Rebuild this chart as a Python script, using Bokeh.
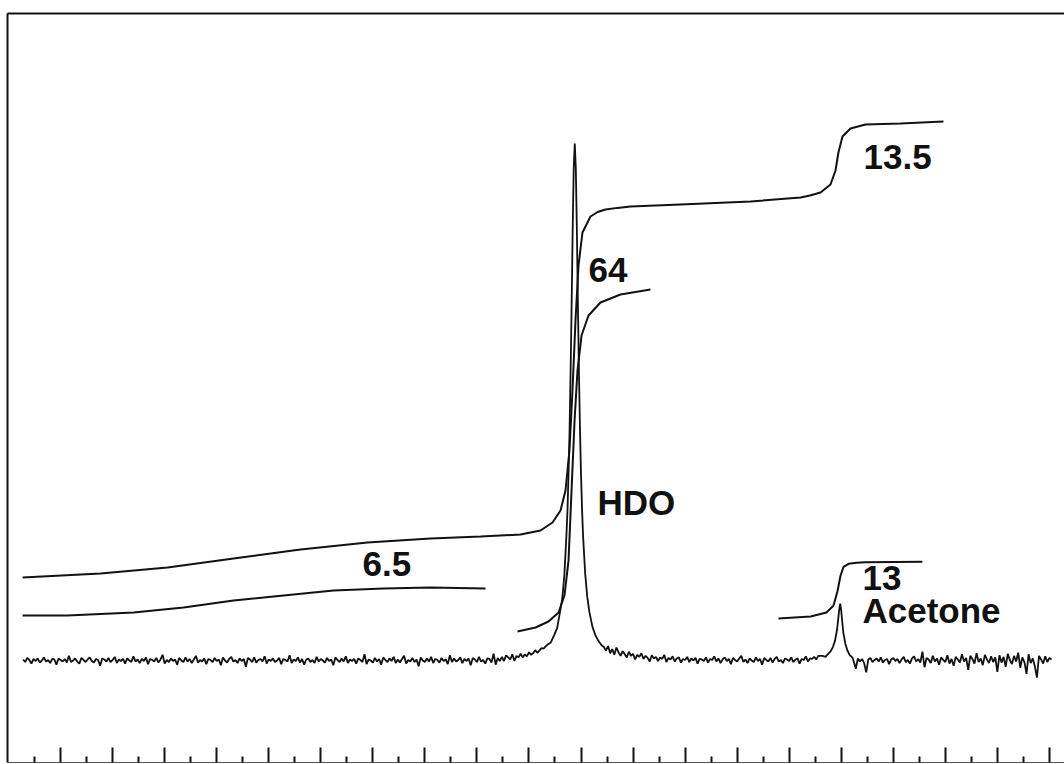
import numpy as np
from bokeh.plotting import figure
from bokeh.models import Range1d, FixedTicker, LinearAxis, Label
from bokeh.embed import file_html
from bokeh.resources import INLINE

# ---------------- data (ppm scale, intensity in % of HDO peak) ----------------
major_ticks = [9.5, 9.0, 8.5, 8.0, 7.5, 7.0, 6.5, 6.0, 5.5, 5.0,
               4.5, 4.0, 3.5, 3.0, 2.5, 2.0, 1.5, 1.0, 0.5, 0.0]
minor_ticks = [9.75, 9.25, 8.75, 8.25, 7.75, 7.25, 6.75, 6.25, 5.75, 5.25,
               4.75, 4.25, 3.75, 3.25, 2.75, 2.25, 1.75, 1.25, 0.75, 0.25]

sample_step = 0.02

# baseline trace left of HDO: starts 9.86 ppm, sampled every 0.02 ppm
base_left_start = 9.86
base_left = [0.2, -0.3, 0.5, 0.1, -0.6, 0.3, -0.1, 0.4, -0.4, 0.0,
             0.6, -0.2, 0.1, -0.5, 0.3, 0.2, -0.8, 0.4, 0.1, -0.2,
             0.3, -0.4, 0.9, -0.3, 0.0, 0.4, -0.2, -0.6, 0.5, 0.1,
             -0.3, 0.2, 0.6, -0.1, -0.4, 0.3, 0.1, -1.0, 0.4, 0.2,
             -0.2, 0.5, -0.3, 0.1, 0.7, -0.5, 0.2, -0.1, 0.3, -0.6,
             0.4, 0.0, -0.3, 0.8, -0.2, 0.2, -0.5, 0.3, -0.1, 0.6,
             -0.7, 0.3, 0.1, -0.2, 0.5, -0.4, 0.2, 1.1, -0.6, 0.1,
             -0.3, 0.4, -0.1, 0.2, -0.8, 0.5, 0.0, -0.3, 0.6, -0.2,
             0.3, -0.5, 0.2, 0.9, -0.4, 0.1, -0.2, 0.4, -0.7, 0.3,
             0.1, -0.3, 0.5, -0.1, 0.2, -0.9, 0.6, 0.0, -0.4, 0.3,
             0.7, -0.2, 0.1, -0.5, 0.4, -0.1, 0.3, -1.2, 0.5, 0.2,
             -0.3, 0.6, -0.4, 0.1, 0.3, -0.2, 0.8, -0.6, 0.2, -0.1,
             0.4, -0.3, 0.0, 0.5, -0.7, 0.3, 0.1, -0.2, 1.0, -0.5,
             0.2, -0.1, 0.6, -0.4, 0.3, -0.8, 0.2, 0.4, -0.3, 0.1,
             -0.5, 0.7, -0.2, 0.3, 0.0, -0.4, 0.5, -0.1, 0.2, -0.9,
             0.6, 0.1, -0.3, 0.4, -0.2, 0.8, -0.5, 0.2, -0.1, 0.3,
             -0.6, 0.4, 0.1, -0.3, 1.2, -0.7, 0.2, 0.0, -0.4, 0.5,
             -0.2, 0.3, -0.8, 0.6, 0.1, -0.3, 0.4, -0.1, 0.7, -0.5,
             0.2, -0.4, 0.3, 0.9, -0.6, 0.1, -0.2, 0.5, -0.3, 0.2,
             -1.1, 0.6, 0.0, -0.3, 0.4, -0.2, 0.7, -0.5, 0.3, 0.1,
             -0.4, 0.5, -0.1, 0.2, -0.7, 1.0, -0.3, 0.4, -0.2, 0.1,
             0.6, -0.5, 0.3, -0.1, 0.4, -0.9, 0.5, 0.2, -0.3, 0.7,
             -0.2, 0.1, -0.6, 0.4, 0.3, -0.4, 1.3, -0.8, 0.5, -0.1,
             0.7, -0.1, 1.0, 0.6, 0.2, 1.2, -0.1, 0.9, 0.6, 1.3,
             0.6, 1.2, 0.8, 1.6, 1.1, 1.4, 2.0, 1.5, 1.9, 2.4,
             2.3]

# HDO line
hdo_ppm = [4.82, 4.79, 4.76, 4.73, 4.70, 4.68, 4.66, 4.64, 4.63, 4.62,
           4.61, 4.60, 4.59, 4.58, 4.57, 4.56, 4.55, 4.54, 4.53, 4.52,
           4.51, 4.50, 4.49, 4.48, 4.46, 4.44, 4.42, 4.39, 4.36, 4.33,
           4.30]
hdo_int = [3.1, 3.5, 4.8, 6.2, 9.6, 12.0, 16.5, 24.3, 29.0, 36.2,
           44.5, 56.0, 69.0, 83.5, 95.3, 100.0, 95.3, 83.5, 69.2, 55.9,
           44.8, 36.0, 29.2, 24.0, 16.8, 12.3, 9.4, 6.5, 4.8, 3.7,
           2.9]

# baseline between HDO and acetone: starts 4.28 ppm, every 0.02 ppm
base_mid_start = 4.28
base_mid = [2.6, 1.9, 2.8, 1.4, 2.2, 1.1, 2.5, 1.6, 0.9, 1.8,
            1.2, 0.6, 1.7, 0.9, 1.3, 0.2, 1.1, 0.7, 1.4, 0.3,
            0.9, 0.5, -0.2, 1.0, 0.4, 0.7, -0.1, 0.6, 0.3, 1.1,
            -0.3, 0.5, 0.2, 0.8, -0.2, 0.4, 0.6, -0.4, 0.3, 0.1,
            0.7, -0.3, 0.4, 0.0, 0.5, -0.6, 0.3, 0.2, -0.1, 0.6,
            -0.4, 0.3, 0.1, 0.8, -0.2, 0.4, -0.5, 0.2, 0.6, -0.1,
            0.3, -0.7, 0.5, 0.1, -0.2, 0.4, 0.9, -0.3, 0.2, -0.5,
            0.4, 0.0, -0.3, 0.6, -0.1, 0.3, -0.8, 0.5, 0.1, -0.2,
            0.5, -0.4, 0.3, 0.7, -0.2, 0.1, -0.5, 0.4, 0.2, -0.1,
            0.6, -0.3, 0.2, 0.4, -0.6, 0.3, 0.1, 0.8, -0.2, 0.4,
            0.3, 0.7, 0.2, 0.9]

# acetone line
ace_ppm = [2.18, 2.15, 2.13, 2.10, 2.08, 2.06, 2.04, 2.03, 2.02, 2.01,
           2.00, 1.99, 1.98, 1.96, 1.94, 1.92, 1.89]
ace_int = [0.9, 0.7, 1.2, 1.8, 2.6, 3.8, 6.0, 7.8, 9.8, 11.0,
           9.6, 7.4, 5.4, 3.2, 1.9, 1.1, 0.5]

# baseline right of acetone: starts 1.86 ppm, every 0.02 ppm
base_right_start = 1.86
base_right = [-1.6, 0.4, -0.2, 0.3, -0.5, -2.3, 0.2, 0.5, -0.3, 0.1,
              0.4, -0.2, 0.6, -0.4, 0.1, 0.3, -0.7, 0.2, 0.5, -0.1,
              0.3, -0.5, 0.2, 0.7, -0.3, 0.1, -0.6, 0.4, 0.8, -0.2,
              0.3, -0.4, 1.7, -1.3, 0.5, 0.2, -0.5, 0.9, -0.2, 0.4,
              -0.8, 0.6, 0.1, -0.3, 1.0, -0.6, 0.3, -1.0, 0.7, 0.2,
              -0.4, 1.2, -0.2, 0.5, -1.8, 0.9, 0.3, -0.6, 1.4, -0.3,
              0.4, -0.9, 1.1, 0.2, -0.5, 0.8, -0.3, 0.6, -2.2, 1.0,
              -0.4, 0.7, -1.2, 1.3, 0.1, -0.7, 0.9, -0.2, 1.5, -1.4,
              0.6, -0.3, -2.6, 1.2, -0.5, 0.4, -1.1, -3.3, 0.9, 0.2,
              -0.6, 0.8, -0.3, 0.5, 0.2]

# integral traces
int_total_ppm = [9.865, 9.116, 8.472, 7.838, 7.195, 6.551, 5.946, 5.465, 5.081, 4.889,
                 4.774, 4.697, 4.649, 4.611, 4.582, 4.553, 4.524, 4.486, 4.409, 4.340,
                 4.265, 4.150, 4.025, 3.544, 2.872, 2.391, 2.300, 2.199, 2.103, 2.055,
                 2.027, 1.988, 1.911, 1.767, 1.431, 1.018]
int_total_val = [16.05, 16.83, 17.99, 19.73, 21.47, 22.82, 23.60, 23.98, 24.37, 25.15,
                 26.69, 29.01, 32.88, 40.62, 52.22, 65.76, 76.40, 82.79, 85.88, 86.75,
                 87.23, 87.55, 87.81, 88.20, 88.78, 89.56, 89.95, 90.52, 92.07, 94.78,
                 98.26, 101.35, 102.90, 103.68, 103.87, 104.26]

int_broad_ppm = [9.865, 9.433, 8.799, 8.318, 7.838, 7.358, 6.878, 6.397, 5.946, 5.417]
int_broad_val = [8.70, 8.70, 9.28, 10.25, 11.61, 12.57, 13.54, 13.93, 14.12, 13.93]

int_hdo_ppm = [5.110, 4.937, 4.812, 4.716, 4.659, 4.620, 4.591, 4.562, 4.534, 4.495,
               4.428, 4.313, 4.121, 3.833]
int_hdo_val = [5.61, 6.38, 7.54, 9.28, 12.57, 19.34, 32.88, 46.42, 56.09, 62.86,
               66.73, 69.25, 70.79, 71.76]

int_ace_ppm = [2.603, 2.295, 2.142, 2.075, 2.036, 2.007, 1.978, 1.930, 1.850, 1.767, 1.220]
int_ace_val = [8.12, 8.51, 9.28, 10.60, 13.40, 16.40, 18.10, 18.70, 18.90, 19.00, 19.10]

labels = ["13.5", "64", "HDO", "6.5", "13", "Acetone"]
label_ppm = [1.786, 4.428, 4.341, 6.599, 1.796, 1.796]
label_val = [97.3, 75.6, 30.6, 18.6, 15.9, 9.6]

# ---------------- assemble spectrum ----------------
def seg(start, vals):
    return [round(start - sample_step * i, 3) for i in range(len(vals))]

spec_x = seg(base_left_start, base_left) + hdo_ppm + seg(base_mid_start, base_mid) \
    + ace_ppm + seg(base_right_start, base_right)
spec_y = base_left + hdo_int + base_mid + ace_int + base_right

# ---------------- figure ----------------
p = figure(width=1064, height=764,
           x_range=Range1d(10.01, -0.145), y_range=Range1d(-19.73, 125.15),
           output_backend="svg", toolbar_location=None,
           min_border_left=7, min_border_right=0, min_border_top=13, min_border_bottom=2)
p.grid.visible = False
p.outline_line_color = None
p.background_fill_color = "white"
p.border_fill_color = "white"

xa = p.xaxis[0]
xa.ticker = FixedTicker(ticks=major_ticks, minor_ticks=minor_ticks)
xa.major_tick_in = 15
xa.major_tick_out = 0
xa.minor_tick_in = 6
xa.minor_tick_out = 0
xa.major_tick_line_width = 2
xa.minor_tick_line_width = 2
xa.major_tick_line_color = "#111111"
xa.minor_tick_line_color = "#111111"
xa.major_label_text_font_size = "0px"
xa.major_label_text_alpha = 0
xa.major_label_standoff = 0
xa.axis_line_color = "#555555"
xa.axis_line_width = 1

ya = p.yaxis[0]
ya.ticker = FixedTicker(ticks=[])
ya.major_tick_line_color = None
ya.minor_tick_line_color = None
ya.major_label_text_font_size = "0px"
ya.major_label_standoff = 0
ya.axis_line_width = 2
ya.axis_line_color = "#111111"

top = LinearAxis(ticker=FixedTicker(ticks=[]), major_tick_line_color=None,
                 minor_tick_line_color=None, major_label_text_font_size="0px",
                 major_label_standoff=0, axis_line_width=2, axis_line_color="#111111")
p.add_layout(top, "above")

p.line(spec_x, spec_y, line_color="#111111", line_width=1.8)
p.line(int_total_ppm, int_total_val, line_color="#111111", line_width=2)
p.line(int_broad_ppm, int_broad_val, line_color="#111111", line_width=2)
p.line(int_hdo_ppm, int_hdo_val, line_color="#111111", line_width=2)
p.line(int_ace_ppm, int_ace_val, line_color="#111111", line_width=2)

for t, x, y in zip(labels, label_ppm, label_val):
    p.add_layout(Label(x=x, y=y, text=t, text_font="Liberation Sans",
                       text_font_style="bold", text_font_size="35px",
                       text_color="#111111", text_baseline="alphabetic",
                       text_align="left"))

open("out.html", "w").write(file_html(p, INLINE))
